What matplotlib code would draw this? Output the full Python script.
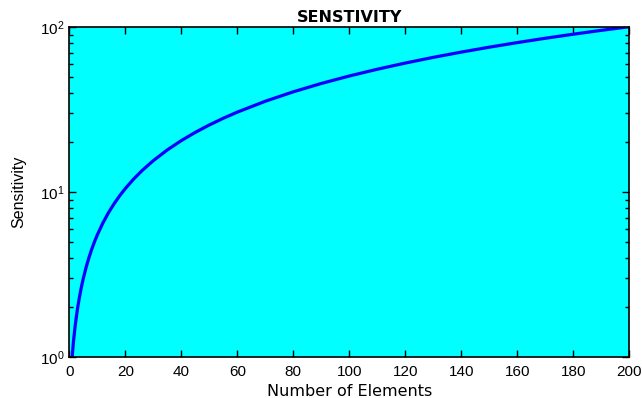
import matplotlib
matplotlib.use("Agg")
import matplotlib.pyplot as plt

# values
elements = [1, 1.5, 2, 2.5, 3, 3.5, 4, 4.5, 5, 6, 7, 8, 9, 10, 12, 14, 16, 18, 20, 23, 26,
            30, 35, 40, 45, 50, 55, 60, 70, 80, 90, 100, 110, 120, 130, 140, 150, 160,
            170, 180, 190, 200]
sensitivity = [1.0, 1.25, 1.5, 1.75, 2.0, 2.25, 2.5, 2.75, 3.0, 3.5, 4.0, 4.5, 5.0, 5.5,
               6.5, 7.5, 8.5, 9.5, 10.5, 12.0, 13.5, 15.5, 18.0, 20.5, 23.0, 25.5, 28.0,
               30.5, 35.5, 40.5, 45.5, 50.5, 55.5, 60.5, 65.5, 70.5, 75.5, 80.5, 85.5,
               90.5, 95.5, 100.5]
xticks = [0, 20, 40, 60, 80, 100, 120, 140, 160, 180, 200]

plt.rcParams['font.family'] = ['Liberation Sans', 'DejaVu Sans']

fig = plt.figure(figsize=(6.42, 3.98), dpi=100)
ax = fig.add_axes([0.108, 0.103, 0.872, 0.829])
ax.set_facecolor('#00ffff')
ax.plot(elements, sensitivity, color='#0000ff', lw=2.3)
ax.set_yscale('log')
ax.set_xlim(0, 200)
ax.set_ylim(1, 100)
ax.set_xticks(xticks)
ax.tick_params(which='both', direction='in', top=True, right=True, labelsize=11)
ax.tick_params(which='major', length=5, width=1)
ax.tick_params(which='minor', length=3, width=1)
ax.tick_params(axis='x', which='minor', bottom=False, top=False)
ax.tick_params(axis='x', pad=6)
for s in ax.spines.values():
    s.set_linewidth(1.2)
ax.set_title('SENSTIVITY', fontsize=11.5, fontweight='bold', pad=4,
             family=['DejaVu Sans'])
ax.set_xlabel('Number of Elements', fontsize=11.5, labelpad=3, family=['DejaVu Sans'])
ax.set_ylabel('Sensitivity', fontsize=11.5, labelpad=10,
              family=['Liberation Sans Narrow', 'Liberation Sans'])
fig.savefig('out.png', dpi=100)
